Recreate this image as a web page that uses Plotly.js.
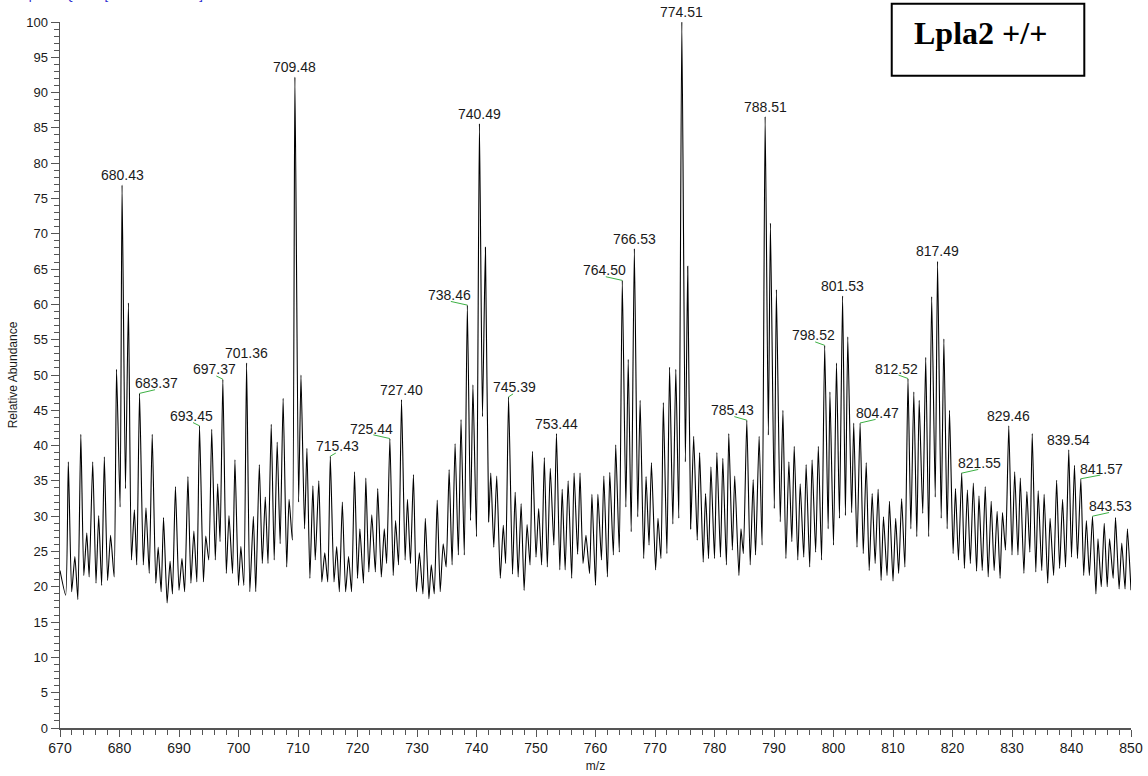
<!DOCTYPE html>
<html>
<head>
<meta charset="utf-8">
<script src="https://cdn.plot.ly/plotly-3.0.1.min.js"></script>
<style>
html,body{margin:0;padding:0;background:#fff;}
#chart{width:1148px;height:776px;}
</style>
</head>
<body>
<div id="chart"></div>
<script>
// ---- Data ----
const peakMz = [671.4,672.5,673.5,674.5,675.5,676.5,677.45,678.5,679.5,680.43,681.5,682.5,683.37,684.45,685.5,686.5,687.4,688.5,689.4,690.5,691.5,692.5,693.45,694.5,695.5,696.5,697.37,698.4,699.4,700.4,701.36,702.5,703.5,704.5,705.5,706.5,707.5,708.5,709.48,710.5,711.5,712.5,713.5,714.5,715.43,716.5,717.45,718.5,719.5,720.4,721.4,722.4,723.4,724.5,725.44,726.4,727.40,728.4,729.4,730.4,731.4,732.4,733.4,734.4,735.4,736.4,737.4,738.46,739.4,740.49,741.5,742.4,743.4,744.5,745.39,746.5,747.5,748.5,749.4,750.45,751.4,752.4,753.44,754.4,755.4,756.4,757.4,758.4,759.4,760.4,761.4,762.4,763.4,764.50,765.5,766.53,767.5,768.5,769.4,770.5,771.4,772.45,773.5,774.51,775.5,776.5,777.5,778.5,779.4,780.4,781.4,782.4,783.4,784.45,785.43,786.5,787.5,788.51,789.4,790.4,791.5,792.5,793.4,794.4,795.4,796.4,797.45,798.52,799.4,800.5,801.53,802.4,803.4,804.47,805.5,806.5,807.5,808.4,809.4,810.45,811.45,812.52,813.5,814.4,815.5,816.5,817.49,818.55,819.5,820.5,821.55,822.5,823.5,824.45,825.5,826.5,827.5,828.4,829.46,830.45,831.4,832.5,833.4,834.4,835.4,836.4,837.5,838.5,839.54,840.5,841.57,842.5,843.53,844.45,845.5,846.4,847.4,848.45,849.4];
const peakAb = [37.7,24.3,41.6,27.6,37.7,30.1,38.4,27.3,50.8,76.9,60.2,30.9,47.4,31.2,41.6,25.6,29.8,23.6,34.2,24.0,35.6,27.9,42.8,27.2,42.3,34.6,49.4,30.1,38.0,25.7,51.7,30.0,37.3,32.7,43.0,40.5,46.7,32.4,92.2,50.0,39.6,34.3,35.0,24.8,38.5,25.7,32.0,24.3,36.3,28.2,35.4,30.2,33.9,28.2,41.0,29.4,46.5,32.4,35.9,24.8,29.7,23.1,32.3,26.1,36.6,40.3,43.7,59.9,48.6,85.6,68.1,36.1,35.7,28.7,46.9,33.4,31.8,28.8,39.2,31.1,38.3,36.8,41.7,33.8,35.0,36.1,36.1,27.3,33.1,33.1,35.7,36.2,40.1,63.4,52.2,67.9,46.4,35.6,37.6,29.7,46.1,51.1,50.8,100,65.4,41.3,39.0,33.2,37.0,39.0,38.2,41.7,35.7,28.2,43.6,35.2,41.3,86.6,71.5,62.1,45.0,37.7,39.9,34.6,37.3,38.0,39.9,54.2,47.6,51.7,61.2,55.4,43.2,43.2,37.6,33.2,33.8,29.9,32.1,29.7,32.5,49.5,47.6,46.4,52.5,61.1,66.1,55.1,45.0,33.9,36.1,33.7,34.7,32.9,34.2,32.1,30.7,30.5,42.8,36.3,35.4,33.5,41.7,33.6,33.1,29.7,35.1,32.4,39.4,37.2,35.3,29.4,30.0,26.8,29.0,26.8,29.8,26.2,28.2];

const valleyMz = [670.0,670.95,671.96,673.0,674.0,674.9,676.05,677.0,678.0,679.1,680.1,681.0,682.0,682.9,684.0,685.0,686.1,687.0,688.0,688.9,690.0,690.95,692.0,693.0,694.1,695.0,696.1,696.9,697.95,699.0,700.0,700.9,701.9,702.9,704.0,704.96,706.0,707.0,708.1,709.05,710.1,711.1,712.0,712.9,714.0,715.0,716.05,716.95,718.0,719.0,720.0,721.0,721.9,723.0,724.0,724.9,726.0,726.9,728.0,728.9,729.9,731.0,732.0,732.9,733.9,734.9,735.9,736.95,737.95,739.0,740.0,741.0,742.05,742.9,744.0,744.9,746.05,747.0,748.0,749.0,750.0,750.95,751.9,753.0,754.0,754.9,756.0,757.0,757.9,759.0,760.0,761.0,762.0,763.0,764.0,765.1,766.0,767.1,768.1,769.0,770.1,771.0,772.0,773.0,774.0,775.1,776.0,777.1,778.1,779.0,780.0,781.0,782.0,783.0,784.1,784.85,786.0,786.9,788.0,789.05,790.05,791.05,792.0,793.0,794.0,795.0,796.0,797.0,798.0,799.1,800.0,801.0,802.0,803.05,803.95,805.0,806.0,807.0,808.0,809.0,810.0,810.95,812.0,813.0,814.0,815.0,816.0,817.1,818.1,819.1,820.1,821.0,822.0,823.0,824.05,825.0,826.0,827.0,828.0,828.9,830.0,831.0,832.0,833.0,834.0,835.0,836.0,837.0,838.0,839.0,840.0,841.0,842.05,843.0,844.1,845.0,846.0,847.0,848.0,849.0,850.0];
const valleyAb = [22.3,18.8,19.3,18.2,21.6,21.4,20.5,20.2,20.9,21.4,31.3,33.9,23.8,23.1,23.1,21.9,20.5,19.3,17.7,19.0,19.5,19.3,20.5,20.7,20.7,23.8,23.8,26.4,21.9,21.9,20.2,20.2,19.3,19.3,23.3,23.3,23.8,26.1,22.8,26.6,32.0,28.2,21.2,23.8,20.7,20.7,20.7,19.3,19.3,19.3,21.2,20.5,22.1,22.1,21.4,23.3,21.6,23.1,23.8,23.3,19.3,19.0,18.3,19.0,19.3,22.8,23.1,24.5,24.5,29.4,27.1,44.1,29.2,25.6,21.2,23.3,21.8,21.4,19.5,23.1,24.2,23.1,22.8,25.9,22.4,22.4,21.2,24.6,23.3,21.9,20.2,23.8,21.4,24.5,24.9,31.3,27.8,29.9,24.0,25.9,22.4,24.0,24.7,28.9,29.7,37.7,28.2,26.6,23.5,24.0,24.0,24.2,23.1,25.2,21.6,24.7,23.1,24.5,25.9,41.5,31.1,29.2,24.0,26.4,23.8,24.2,22.8,24.9,23.8,28.2,25.9,29.7,30.1,30.5,25.6,24.7,22.3,23.3,20.9,21.6,20.8,21.9,22.8,28.2,27.1,30.4,27.1,32.7,29.7,28.2,24.7,23.8,22.6,23.3,22.2,22.3,21.4,22.3,21.2,25.2,24.5,24.5,21.9,24.9,22.1,22.3,20.5,21.6,22.6,22.8,24.2,24.0,21.6,21.6,19.0,20.0,20.0,21.2,19.7,19.7,19.5];

const peakLabels = ["680.43","683.37","693.45","697.37","701.36","709.48","715.43","725.44","727.40","738.46","740.49","745.39","753.44","764.50","766.53","774.51","785.43","788.51","798.52","801.53","804.47","812.52","817.49","821.55","829.46","839.54","841.57","843.53"];

const xTickVals = [670,680,690,700,710,720,730,740,750,760,770,780,790,800,810,820,830,840,850];
const yTickVals = [0,5,10,15,20,25,30,35,40,45,50,55,60,65,70,75,80,85,90,95,100];

// ---- Styling (label pixel shifts; non-zero ones get a green leader) ----
const labelShift = {"683.37":17,"693.45":-8,"697.37":-8,"715.43":7,"725.44":-18,"738.46":-18,"745.39":6,"764.50":-18,"785.43":-14,"798.52":-11,"804.47":17,"812.52":-11,"821.55":18,"841.57":21,"843.53":18};

// Merge peaks and valleys into the profile
const pts = [];
peakMz.forEach((m,i)=>pts.push([m,peakAb[i]]));
valleyMz.forEach((m,i)=>pts.push([m,valleyAb[i]]));
pts.sort((a,b)=>a[0]-b[0]);
const profX = pts.map(p=>p[0]);
const profY = pts.map(p=>p[1]);

const FONT = "Arial, 'Liberation Sans', sans-serif";

const annotations = [];
peakLabels.forEach(lbl=>{
  const m = parseFloat(lbl);
  const idx = peakMz.indexOf(m);
  const y = peakAb[idx];
  const dx = labelShift[lbl] || 0;
  annotations.push({
    x:m, y:y, xref:'x', yref:'y', text:lbl, showarrow:false,
    xanchor:'center', yanchor:'bottom', xshift:dx, yshift:0,
    font:{family:FONT,size:14,color:'#1a1a1a'}
  });
  if(dx!==0){
    annotations.push({
      x:m, y:y, xref:'x', yref:'y', text:'', showarrow:true,
      ax:dx, ay:-4, arrowhead:0, arrowwidth:1, arrowcolor:'#3cb043', standoff:0, startstandoff:0
    });
  }
});

// header text (cut off at top in the reference)
annotations.push({
  xref:'paper', yref:'paper', x:-0.0514, y:1.0255, xanchor:'left', yanchor:'bottom',
  text:'T: - p ESI Q1MS [300.00-1000.00]', showarrow:false,
  font:{family:FONT,size:13,color:'#2a2ad0'}
});
// sample label
annotations.push({
  xref:'paper', yref:'paper', x:0.7955, y:0.9841, xanchor:'left', yanchor:'middle',
  text:'<b>Lpla2 +/+</b>', showarrow:false,
  font:{family:"'Liberation Serif', 'Times New Roman', serif",size:32,color:'#000'}
});

const trace = {
  x: profX, y: profY, type:'scatter', mode:'lines',
  line:{color:'#000', width:1.1, shape:'spline', smoothing:0.5}, cliponaxis:false, hoverinfo:'x+y'
};

const layout = {
  width:1148, height:776,
  margin:{l:60, r:17, t:22, b:48, pad:0},
  paper_bgcolor:'#fff', plot_bgcolor:'#fff',
  showlegend:false,
  font:{family:FONT, color:'#1a1a1a'},
  xaxis:{
    range:[670,850], tickmode:'array', tickvals:xTickVals,
    ticks:'outside', ticklen:7, tickwidth:1, tickcolor:'#555',
    minor:{dtick:2, ticks:'outside', ticklen:5, tickwidth:1, tickcolor:'#555', showgrid:false},
    showline:true, linecolor:'#555', linewidth:1.5, showgrid:false, zeroline:false,
    tickfont:{family:FONT,size:14,color:'#1a1a1a'},
    title:{text:'m/z', font:{family:FONT,size:12,color:'#1a1a1a'}, standoff:6}
  },
  yaxis:{
    range:[0,100], tickmode:'array', tickvals:yTickVals,
    ticks:'outside', ticklen:8, tickwidth:1, tickcolor:'#555',
    minor:{dtick:1, ticks:'outside', ticklen:5, tickwidth:1, tickcolor:'#555', showgrid:false},
    showline:true, linecolor:'#555', linewidth:1.5, showgrid:false, zeroline:false,
    tickfont:{family:FONT,size:13,color:'#1a1a1a'},
    title:{text:'Relative Abundance', font:{family:FONT,size:12,color:'#1a1a1a'}, standoff:6}
  },
  annotations: annotations,
  shapes:[{
    type:'rect', xref:'paper', yref:'paper', x0:0.7766, x1:0.9564, y0:0.9239, y1:1.0259,
    line:{color:'#000', width:2}, fillcolor:'rgba(0,0,0,0)'
  }]
};

Plotly.newPlot('chart',[trace],layout,{staticPlot:true, displayModeBar:false});
</script>
</body>
</html>
